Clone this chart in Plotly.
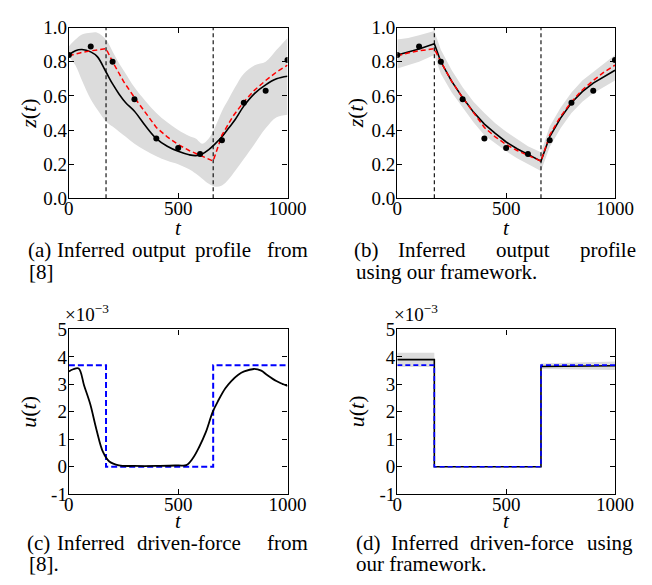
import plotly.graph_objects as go

W, H = 652, 585

# ---------------- data ----------------
switch_times = [170, 660]

obs_t = [0, 100, 200, 300, 400, 500, 600, 700, 800, 900, 1000]
obs_z = [0.84, 0.89, 0.80, 0.58, 0.35, 0.295, 0.26, 0.34, 0.56, 0.63, 0.81]

# true output profile (red dashed)
true_t = [0, 50, 100, 170, 200, 250, 300, 350, 400, 450, 500, 550, 600, 660,
          700, 750, 800, 850, 900, 950, 1000]
true_z = [0.835, 0.852, 0.864, 0.877, 0.80, 0.685, 0.59, 0.50, 0.415, 0.36, 0.315,
          0.28, 0.25, 0.218, 0.37, 0.48, 0.565, 0.635, 0.69, 0.74, 0.78]

# (a) GP inference from [8]
a_t = [0, 30, 60, 100, 130, 170, 200, 230, 260, 300, 350, 400, 450, 500, 550,
       580, 610, 640, 670, 700, 730, 760, 800, 850, 900, 950, 1000]
a_mean = [0.84, 0.865, 0.872, 0.858, 0.83, 0.74, 0.67, 0.61, 0.56, 0.51, 0.425,
          0.35, 0.305, 0.275, 0.255, 0.25, 0.26, 0.285, 0.32, 0.36, 0.41, 0.46,
          0.54, 0.615, 0.665, 0.70, 0.715]
a_upper = [0.89, 0.93, 0.96, 0.97, 0.97, 0.93, 0.86, 0.79, 0.73, 0.65, 0.57, 0.50,
           0.445, 0.40, 0.365, 0.35, 0.32, 0.35, 0.42, 0.51, 0.58, 0.65, 0.73,
           0.78, 0.80, 0.87, 0.94]
a_lower = [0.83, 0.78, 0.69, 0.58, 0.52, 0.45, 0.42, 0.39, 0.36, 0.32, 0.28, 0.247,
           0.22, 0.20, 0.17, 0.145, 0.115, 0.085, 0.068, 0.075, 0.11, 0.16, 0.23,
           0.32, 0.41, 0.475, 0.49]

# (b) our framework
b_t = [0, 50, 100, 170, 200, 250, 300, 350, 400, 450, 500, 550, 600, 660,
       700, 750, 800, 850, 900, 950, 1000]
b_mean = [0.84, 0.857, 0.875, 0.905, 0.80, 0.685, 0.59, 0.505, 0.435, 0.38, 0.33,
          0.29, 0.255, 0.218, 0.36, 0.47, 0.56, 0.625, 0.675, 0.715, 0.75]
b_upper = [0.93, 0.94, 0.955, 0.98, 0.87, 0.75, 0.65, 0.565, 0.50, 0.44, 0.39,
           0.345, 0.305, 0.27, 0.42, 0.53, 0.62, 0.69, 0.74, 0.79, 0.84]
b_lower = [0.76, 0.78, 0.80, 0.84, 0.73, 0.62, 0.53, 0.445, 0.37, 0.32, 0.275,
           0.235, 0.20, 0.16, 0.30, 0.41, 0.50, 0.565, 0.615, 0.655, 0.69]

# driven force (units of 1e-3)
true_u_t = [0, 170, 170, 660, 660, 1000]
true_u = [3.7, 3.7, 0.0, 0.0, 3.7, 3.7]

c_t = [0, 20, 45, 70, 97, 126, 156, 185, 229, 300, 400, 500, 537, 567, 596, 626,
       658, 684, 715, 743, 775, 802, 846, 880, 905, 949, 1000]
c_u = [3.47, 3.55, 3.58, 2.95, 2.3, 1.36, 0.54, 0.19, 0.05, 0.03, 0.03, 0.05, 0.06,
       0.31, 0.72, 1.25, 2.0, 2.42, 2.85, 3.12, 3.35, 3.47, 3.56, 3.5, 3.35, 3.12, 2.94]

d_t = [0, 170, 170, 660, 660, 1000]
d_u = [3.9, 3.9, 0.0, 0.0, 3.65, 3.68]
d_seg_t = [[0, 170], [660, 1000]]
d_seg_upper = [[4.15, 4.15], [3.76, 3.83]]
d_seg_lower = [[3.63, 3.63], [3.56, 3.52]]

x_ticks = [0, 500, 1000]
z_ticks = [0.0, 0.2, 0.4, 0.6, 0.8, 1.0]
u_ticks = [-1, 0, 1, 2, 3, 4, 5]
u_ticklabels = ["-1", "0", "1", "2", "3", "4", "5"]

# ---------------- layout helpers ----------------
def px(x):
    return x / W

def py(y):
    return 1 - y / H

panels = {
    "a": dict(x0=58, x1=285, y0=10, y1=187),
    "b": dict(x0=399, x1=625, y0=10, y1=187),
    "c": dict(x0=58, x1=285, y0=323, y1=494),
    "d": dict(x0=399, x1=625, y0=323, y1=494),
}
axis_ids = {"a": ("x", "y"), "b": ("x2", "y2"), "c": ("x3", "y3"), "d": ("x4", "y4")}

SERIF = "Liberation Serif"
GRAY = "rgb(220,220,220)"

fig = go.Figure()

def band(panel, t, up, lo, shape="linear"):
    xa, ya = axis_ids[panel]
    fig.add_trace(go.Scatter(x=t, y=up, xaxis=xa, yaxis=ya, mode="lines",
                             line=dict(width=0, shape=shape), hoverinfo="skip",
                             showlegend=False))
    fig.add_trace(go.Scatter(x=t, y=lo, xaxis=xa, yaxis=ya, mode="lines",
                             line=dict(width=0, shape=shape), fill="tonexty",
                             fillcolor=GRAY, hoverinfo="skip", showlegend=False))

def line(panel, t, v, color, width, dash="solid", shape="linear"):
    xa, ya = axis_ids[panel]
    fig.add_trace(go.Scatter(x=t, y=v, xaxis=xa, yaxis=ya, mode="lines",
                             line=dict(color=color, width=width, dash=dash, shape=shape),
                             showlegend=False))

def vlines(panel, lo, hi):
    xa, ya = axis_ids[panel]
    for s in switch_times:
        fig.add_trace(go.Scatter(x=[s, s], y=[lo, hi], xaxis=xa, yaxis=ya, mode="lines",
                                 line=dict(color="black", width=1.1, dash="4px,3px"),
                                 showlegend=False))

def dots(panel):
    xa, ya = axis_ids[panel]
    fig.add_trace(go.Scatter(x=obs_t, y=obs_z, xaxis=xa, yaxis=ya, mode="markers",
                             marker=dict(color="black", size=6), showlegend=False))

# (a)
band("a", a_t, a_upper, a_lower, shape="spline")
vlines("a", 0, 1)
line("a", a_t, a_mean, "black", 1.6, shape="spline")
line("a", true_t, true_z, "red", 1.5, dash="5px,3px")
dots("a")

# (b)
band("b", b_t, b_upper, b_lower)
vlines("b", 0, 1)
line("b", b_t, b_mean, "black", 1.6)
line("b", true_t, true_z, "red", 1.5, dash="5px,3px")
dots("b")

# (c)
line("c", true_u_t, true_u, "rgb(0,0,255)", 2, dash="6px,3px")
line("c", c_t, c_u, "black", 1.8, shape="spline")

# (d)
for t, up, lo in zip(d_seg_t, d_seg_upper, d_seg_lower):
    band("d", t, up, lo)
line("d", d_t, d_u, "black", 1.6)
line("d", true_u_t, true_u, "rgb(0,0,255)", 1.6, dash="5px,3px")

# axes
axis_common = dict(showline=True, linecolor="black", linewidth=1.3, mirror="ticks",
                   ticks="inside", ticklen=5, tickwidth=1, tickcolor="black",
                   showgrid=False, zeroline=False,
                   tickfont=dict(family=SERIF, size=19, color="black"))
layout_axes = {}
for i, p in enumerate(["a", "b", "c", "d"]):
    g = panels[p]
    sx = "" if i == 0 else str(i + 1)
    layout_axes["xaxis" + sx] = dict(
        axis_common, domain=[px(g["x0"]), px(g["x1"])], range=[0, 1000],
        tickvals=x_ticks, anchor="y" + sx, ticklabelstandoff=-7)
    if p in ("a", "b"):
        layout_axes["yaxis" + sx] = dict(
            axis_common, domain=[py(g["y1"]), py(g["y0"])], range=[0, 1],
            tickvals=z_ticks, tickformat=".1f", anchor="x" + sx, ticklabelstandoff=-3)
    else:
        layout_axes["yaxis" + sx] = dict(
            axis_common, domain=[py(g["y1"]), py(g["y0"])], range=[-1, 5],
            tickvals=u_ticks, ticktext=u_ticklabels, anchor="x" + sx,
            ticklabelstandoff=-3)

annotations = []

def text(x, y, s, size=21, xanchor="center", yanchor="middle", angle=0):
    annotations.append(dict(x=px(x), y=py(y), xref="paper", yref="paper", text=s,
                            showarrow=False, xanchor=xanchor, yanchor=yanchor,
                            textangle=angle,
                            font=dict(family=SERIF, size=size, color="black")))

# axis labels
for p in ["a", "b", "c", "d"]:
    g = panels[p]
    xl_y = 218 if p in ("a", "b") else 522
    text((g["x0"] + g["x1"]) / 2, xl_y, "<i>t</i>", size=21)
ylab_z = "<i>z</i>(<i>t</i>)"
ylab_u = "<i>u</i>(<i>t</i>)"
text(16, 99, ylab_z, size=22, angle=-90)
text(356, 99, ylab_z, size=22, angle=-90)
text(16, 408, ylab_u, size=22, angle=-90)
text(356, 408, ylab_u, size=22, angle=-90)

# exponent labels
text(52, 306, "×10<sup>−3</sup>", size=19, xanchor="left")
text(393, 306, "×10<sup>−3</sup>", size=19, xanchor="left")

# captions (justified lines: one annotation per word)
cap_a = [("(a)", 27), ("Inferred", 81), ("output", 152), ("profile", 218), ("from", 285)]
cap_b = [("(b)", 367), ("Inferred", 435), ("output", 530), ("profile", 618)]
cap_c = [("(c)", 26), ("Inferred", 81), ("driven-force", 183), ("from", 285)]
cap_d = [("(d)", 369), ("Inferred", 428), ("driven-force", 528), ("using", 620)]
for words, y in [(cap_a, 241), (cap_b, 241), (cap_c, 545), (cap_d, 545)]:
    for w, x in words:
        text(x, y, w)
text(15, 263, "[8]", xanchor="left")
text(354, 263, "using our framework.", xanchor="left")
text(15, 566, "[8].", xanchor="left")
text(354, 566, "our framework.", xanchor="left")

fig.update_layout(width=W, height=H, margin=dict(l=0, r=0, t=0, b=0),
                  paper_bgcolor="white", plot_bgcolor="white",
                  font=dict(family=SERIF, color="black"),
                  annotations=annotations, showlegend=False, **layout_axes)

fig.write_html("out.html")
